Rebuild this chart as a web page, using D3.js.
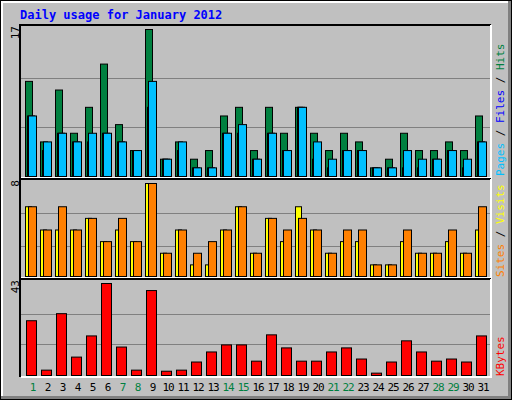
<!DOCTYPE html>
<html><head><script src="https://cdn.jsdelivr.net/npm/d3@7"></script>
<style>body{margin:0;background:#fff}</style></head><body>
<script>
const days = d3.range(1,32);
const weekend = [1,7,8,14,15,21,22,28,29];
const hits  = [11,4,10,5,8,13,6,3,17,2,4,2,3,7,8,3,8,5,8,5,3,5,4,1,2,5,3,3,4,3,7];
const files = [7,3,5,4,4,5,4,3,8,2,3,1,1,5,5,2,5,3,8,2,1,3,3,1,1,1,1,2,3,1,4];
const pages = [7,4,5,4,5,5,4,3,11,2,4,1,1,5,6,2,5,3,8,4,2,3,3,1,1,3,2,2,3,2,4];
const visits= [6,4,4,4,5,3,4,3,8,2,4,1,1,4,6,2,5,3,6,4,2,3,3,1,1,3,2,2,3,2,4];
const sites = [6,4,6,4,5,3,5,3,8,2,4,2,3,4,6,2,5,4,5,4,2,4,4,1,1,4,2,2,4,2,6];
const kbytes= [25.6,2.5,28.9,8.6,18.5,43,13.3,2.5,39.7,2.0,2.5,6.3,11,14.3,14.3,6.7,19,12.9,6.7,6.7,11,12.9,7.7,1.1,6.3,16.2,11,6.7,7.7,6.3,18.5];

const svg = d3.select("body").append("svg").attr("width",512).attr("height",400)
  .style("font-family","'DejaVu Sans Mono',monospace");
svg.append("rect").attr("x",0).attr("y",0).attr("width",512).attr("height",400).attr("fill","#000");
svg.append("rect").attr("x",1).attr("y",1).attr("width",510).attr("height",398).attr("fill","#808080");
svg.append("rect").attr("x",1).attr("y",1).attr("width",507).attr("height",395).attr("fill","#fff");
svg.append("rect").attr("x",3).attr("y",3).attr("width",505).attr("height",393).attr("fill","#c0c0c0");

svg.append("text").attr("x",20).attr("y",19).attr("fill","#0000ff").attr("font-weight","bold")
  .attr("font-size",12).text("Daily usage for January 2012");

const x = d3.scaleBand().domain(days).range([20,485]).paddingInner(0);
function panel(y0,y1,max){
  svg.append("rect").attr("x",20).attr("y",y0).attr("width",471).attr("height",y1-y0).attr("fill","#c0c0c0");
  svg.append("path").attr("d",`M20,${y1}V${y0}H491`).attr("stroke","#000").attr("fill","none").attr("stroke-width",2);
  svg.append("path").attr("d",`M21,${y1}H491V${y0}`).attr("stroke","#fff").attr("fill","none").attr("stroke-width",2);
  return d3.scaleLinear().domain([0,max]).range([y1-2,y0+4]);
}
function grid(y,vals){vals.forEach(v=>svg.append("line").attr("x1",21).attr("x2",490).attr("y1",Math.round(y(v))+.5).attr("y2",Math.round(y(v))+.5).attr("stroke","#808080"));}
function bars(data,y,off,w,color){
  svg.append("g").selectAll("rect").data(data).join("rect")
   .attr("x",(d,i)=>x(days[i])+off+.5).attr("width",w).attr("y",d=>y(d)+.5).attr("height",d=>y(0)-y(d))
   .attr("fill",color).attr("stroke","#000");
}
const y1 = panel(25,178,17);
grid(y1,[17*2/3,17/3]);
bars(hits,y1,5,7,"#008040");
bars(files,y1,7,7,"#0000ff");
bars(pages,y1,8,8,"#00c0ff");
const y2 = panel(179,278,8);
grid(y2,[5.4,2.6]);
bars(visits,y2,5,6,"#ffff00");
bars(sites,y2,8,8,"#ff8000");
const y3 = panel(279,377,43);
grid(y3,[43*2/3,43/3]);
bars(kbytes,y3,6,10,"#ff0000");

svg.append("g").selectAll("text").data(days).join("text")
  .attr("x",d=>x(d)+13).attr("y",391).attr("text-anchor","middle").attr("font-size",11)
  .attr("letter-spacing",d=>d>9?-1:0)
  .attr("fill",d=>weekend.includes(d)?"#008040":"#000").text(d=>d);

function vlab(xp,yp,parts,anchor){
  const t=svg.append("text").attr("transform",`translate(${xp},${yp}) rotate(-90)`).attr("font-size",11).attr("text-anchor",anchor);
  parts.forEach(([s,c])=>t.append("tspan").attr("fill",c).text(s));
}
vlab(19,26,[["17","#000"]],"end");
vlab(19,180,[["8","#000"]],"end");
vlab(19,280,[["43","#000"]],"end");
vlab(504,176,[["Pages","#00c0ff"],[" / ","#000"],["Files","#0000ff"],[" / ","#000"],["Hits","#008040"]],"start");
vlab(504,277,[["Sites","#ff8000"],[" / ","#000"],["Visits","#ffff00"]],"start");
vlab(504,376,[["KBytes","#ff0000"]],"start");
</script></body></html>
